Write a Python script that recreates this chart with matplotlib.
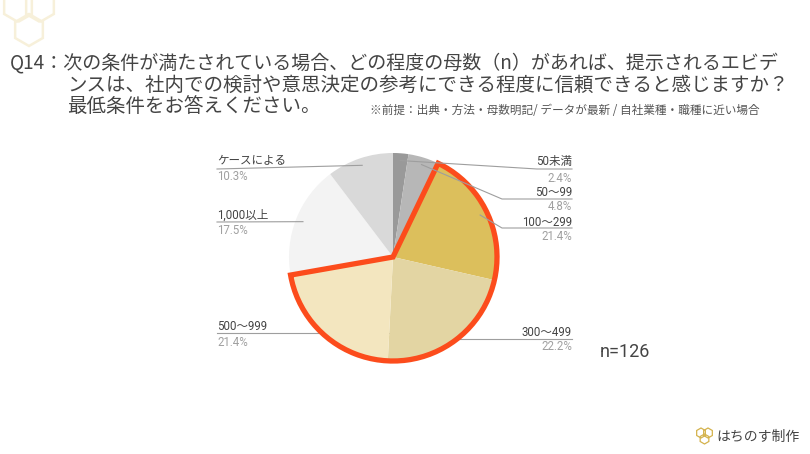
import numpy as np
import matplotlib
matplotlib.use("Agg")
import matplotlib.pyplot as plt
from matplotlib.patches import Wedge, RegularPolygon

# ---------------- data ----------------
categories = ["50未満", "50〜99", "100〜299", "300〜499", "500〜999", "1,000以上", "ケースによる"]
counts = [3, 6, 27, 28, 27, 22, 13]          # n = 126
percent_labels = ["2.4%", "4.8%", "21.4%", "22.2%", "21.4%", "17.5%", "10.3%"]
highlight = ["100〜299", "300〜499", "500〜999"]
n_label = "n=126"
title_lines = [
    "Q14：次の条件が満たされている場合、どの程度の母数（n）があれば、提示されるエビデ",
    "ンスは、社内での検討や意思決定の参考にできる程度に信頼できると感じますか？",
    "最低条件をお答えください。",
]
note = "※前提：出典・方法・母数明記/ データが最新 / 自社業種・職種に近い場合"
brand = "はちのす制作"

# ---------------- style ----------------
colors = ["#999999", "#b7b7b7", "#dcbf5c", "#e3d5a3", "#f3e6bf", "#f3f3f3", "#d9d9d9"]
CJK = ["Noto Sans CJK JP", "DejaVu Sans"]
LAB = ["Roboto", "Noto Sans CJK JP", "DejaVu Sans"]
plt.rcParams["font.family"] = CJK

W, H = 810, 454
fig = plt.figure(figsize=(W / 100, H / 100), dpi=100)
ax = fig.add_axes([0, 0, 1, 1])

cx, cy, R = 393, 257, 104
ax.pie(counts, colors=colors, startangle=-90, counterclock=True,
       center=(cx, cy), radius=R, wedgeprops=dict(linewidth=0), frame=False)
ax.set_xlim(0, W)
ax.set_ylim(H, 0)
ax.set_aspect("equal")
ax.axis("off")

total = sum(counts)
cum = np.concatenate([[0], np.cumsum(counts)]) / total

# highlight outline
idx = [categories.index(c) for c in highlight]
f1, f2 = cum[min(idx)], cum[max(idx) + 1]
ax.add_patch(Wedge((cx, cy), R, -90 + 360 * f1, -90 + 360 * f2, fill=False,
                   ec="#fc4c1c", lw=3.8, joinstyle="miter", zorder=5))

# label layout: (side, text x, name y, pct y, elbow, line y, line end x, above pie)
layout = [
    ("r", 572, 162, 178, (537, 169), 169, 572, True),
    ("r", 572, 192, 207, (502, 199), 199, 572, True),
    ("r", 572, 222, 237, (502, 228), 228, 572, True),
    ("r", 572, 332, 347, None, 339, 572, False),
    ("l", 217, 326, 342, None, 333, 217, False),
    ("l", 217, 215, 231, None, 222, 217, True),
    ("l", 217, 161, 177, None, 169, 217, True),
]
lc = "#9e9e9e"
for i, (side, tx, ny, py, elbow, ly, lend, above) in enumerate(layout):
    mid = -90 + 360 * (cum[i] + cum[i + 1]) / 2
    ax_ = cx + 0.93 * R * np.cos(np.radians(mid))
    ay_ = cy + 0.93 * R * np.sin(np.radians(mid))
    if elbow is not None:
        xs = [ax_, elbow[0], lend]
        ys = [ay_, elbow[1], ly]
    elif above:
        xs = [ax_, lend]
        ys = [ay_, ly]
    else:
        xs = [cx, lend]
        ys = [ly, ly]
    ax.plot(xs, ys, color=lc, lw=0.8, zorder=6 if above else 0.5,
            solid_joinstyle="round")
    ha = "right" if side == "r" else "left"
    ax.text(tx, ny, categories[i], ha=ha, va="center", fontsize=8.3,
            color="#444444", family=LAB, zorder=7)
    ax.text(tx, py, percent_labels[i], ha=ha, va="center", fontsize=8.3,
            color="#a0a0a0", family=LAB, zorder=7)

# titles
ax.text(10, 63, title_lines[0], ha="left", va="center", fontsize=13.7, color="#444444")
ax.text(67, 85, title_lines[1], ha="left", va="center", fontsize=14.0, color="#444444")
ax.text(67, 106, title_lines[2], ha="left", va="center", fontsize=14.0, color="#444444")
ax.text(370, 110, note, ha="left", va="center", fontsize=8.4, color="#555555")

ax.text(600, 352, n_label, ha="left", va="center", fontsize=13, color="#444444",
        family=LAB)

# decoration: faint hexagons top-left
for (hx, hy) in [(18, 6), (40, 6), (29, 30)]:
    ax.add_patch(RegularPolygon((hx, hy), 6, radius=16, fill=False,
                                ec="#f7f0da", lw=1.8, zorder=0))

# brand logo bottom-right
for (hx, hy) in [(701, 433), (708, 433), (704.5, 439)]:
    ax.add_patch(RegularPolygon((hx, hy), 6, radius=5, fill=False,
                                ec="#d4b24c", lw=0.9, zorder=3))
ax.text(716, 437, brand, ha="left", va="center", fontsize=10, color="#444444")

fig.savefig("out.png", dpi=100)
